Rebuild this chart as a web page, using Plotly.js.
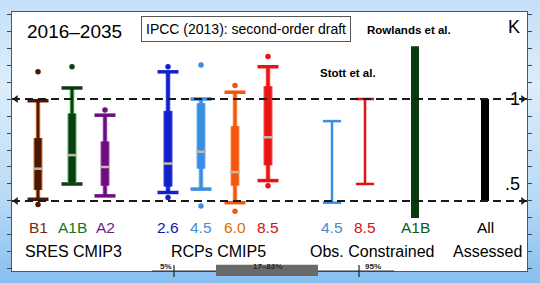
<!DOCTYPE html>
<html>
<head>
<meta charset="utf-8">
<script src="https://cdn.plot.ly/plotly-3.0.1.min.js"></script>
<style>
  html, body { margin: 0; padding: 0; }
  body {
    width: 540px; height: 283px; overflow: hidden;
    background: linear-gradient(180deg, #c4e0f8 0%, #dcedfb 30%, #b8daf6 70%, #86bff0 100%);
  }
  #chart { width: 540px; height: 283px; }
</style>
</head>
<body>
<div id="chart"></div>
<script>
// CMIP3 (SRES) and CMIP5 (RCP) model spread of warming, 2016–2035 (K)
const cmipLabels = ['B1', 'A1B', 'A2', '2.6', '4.5', '6.0', '8.5'];
const cmipMin    = [0.38, null, null, 0.42, 0.37, 0.34, 0.49];
const cmipP5     = [0.41, 0.50, 0.43, 0.45, 0.47, 0.39, 0.52];
const cmipP17    = [0.465, 0.505, 0.49, 0.485, 0.59, 0.49, 0.61];
const cmipMedian = [0.59, 0.67, 0.60, 0.62, 0.69, 0.57, 0.775];
const cmipP83    = [0.77, 0.915, 0.75, 0.93, 0.975, 0.84, 1.075];
const cmipP95    = [0.99, 1.065, 0.905, 1.16, 1.00, 1.04, 1.19];
const cmipMax    = [1.16, 1.19, 0.935, 1.19, 1.20, 1.08, 1.25];

// Observationally constrained ranges
const obsLabels = ['4.5', '8.5'];
const obsLow    = [0.39, 0.50];
const obsHigh   = [0.87, 1.00];

// Rowlands et al. (A1B) and the overall assessed range
const rowlandsLabel = 'A1B';
const rowlandsRange = [0.30, 1.31];
const assessedLabel = 'All';
const assessedRange = [0.40, 1.00];

const refLevels = [1.0, 0.4];
const tickLabels = [{v: 1.0, t: '1'}, {v: 0.5, t: '.5'}];

// layout slots along the horizontal axis
const cmipSlot = [26, 60, 93, 156, 189, 223, 256];
const obsSlot = [320, 353];
const rowlandsSlot = 403;
const assessedSlot = 473;

const cmipFill = ['#4a1708', '#0c3c15', '#6c0f7c', '#1222c6', '#3a8ee2', '#f05812', '#e81414'];
const cmipEdge = ['#d9782e', '#40b84a', '#a644b6', '#3044f0', '#6aaef0', '#ff8a40', '#ff4a4a'];
const cmipText = ['#7a2c0a', '#14752a', '#6e1a8c', '#1414b0', '#4a8ad0', '#e06a12', '#d01212'];
const obsColor = ['#3a8ee2', '#e01414'];

const FONT = 'Liberation Sans, Arial, sans-serif';
const traces = [];
const annotations = [];

function vline(x, y0, y1, color, width) {
  traces.push({x: [x, x], y: [y0, y1], mode: 'lines', line: {color, width},
    hoverinfo: 'skip', showlegend: false, cliponaxis: false});
}
function marks(xs, ys, symbol, size, color, lw) {
  traces.push({x: xs, y: ys, mode: 'markers', hoverinfo: 'skip', showlegend: false,
    cliponaxis: false,
    marker: {symbol, size, color, line: {color, width: lw}}});
}

cmipLabels.forEach((lab, i) => {
  const x = cmipSlot[i];
  vline(x, cmipP5[i], cmipP95[i], cmipEdge[i], 4.5);
  vline(x, cmipP5[i], cmipP95[i], cmipFill[i], 2.5);
  marks([x, x], [cmipP5[i], cmipP95[i]], 'line-ew', 15, cmipFill[i], 3.5);
  vline(x, cmipP17[i], cmipP83[i], cmipEdge[i], 9);
  vline(x, cmipP17[i], cmipP83[i], cmipFill[i], 7);
  marks([x], [cmipMedian[i]], 'line-ew', 7, '#c0b8b0', 2.5);
  const dots = [cmipMin[i], cmipMax[i]].filter(v => v !== null);
  marks(dots.map(() => x), dots, 'circle', 5.5, cmipFill[i], 0);
  annotations.push({x, y: 0.245, text: lab, showarrow: false,
    font: {family: FONT, size: 15.5, color: cmipText[i]}});
});

obsLabels.forEach((lab, i) => {
  const x = obsSlot[i];
  vline(x, obsLow[i], obsHigh[i], obsColor[i], 2.5);
  marks([x, x], [obsLow[i], obsHigh[i]], 'line-ew', 13, obsColor[i], 2.5);
  annotations.push({x, y: 0.245, text: lab, showarrow: false,
    font: {family: FONT, size: 15.5, color: cmipText[i === 0 ? 4 : 6]}});
});

vline(rowlandsSlot, rowlandsRange[0], rowlandsRange[1], '#0a3a10', 8);
annotations.push({x: rowlandsSlot, y: 0.245, text: rowlandsLabel, showarrow: false,
  font: {family: FONT, size: 15.5, color: '#0c5a18'}});
vline(assessedSlot, assessedRange[0], assessedRange[1], '#000000', 8);
annotations.push({x: assessedSlot, y: 0.245, text: assessedLabel, showarrow: false,
  font: {family: FONT, size: 15.5, color: '#000'}});

// arrowheads at both ends of the reference lines
refLevels.forEach(v => {
  marks([4], [v], 'triangle-left', 7, '#222', 0);
  marks([511], [v], 'triangle-right', 7, '#222', 0);
});

const shapes = refLevels.map(v => ({
  type: 'line', xref: 'x', yref: 'y', x0: 0, x1: 515, y0: v, y1: v, layer: 'above',
  line: {color: '#1a1a1a', width: 2, dash: '8px,5px'}
}));

// probability key on the bottom frame
shapes.push({type: 'line', xref: 'x', yref: 'paper', x0: 140, x1: 382, y0: 0, y1: 0,
  line: {color: '#333', width: 1}});
shapes.push({type: 'rect', xref: 'x', yref: 'paper', x0: 204, x1: 306, y0: -0.019, y1: 0.024,
  fillcolor: '#6a6a6a', line: {width: 0}});
[162, 347].forEach(x => shapes.push({type: 'line', xref: 'x', yref: 'paper', x0: x, x1: x,
  y0: -0.023, y1: 0.023, line: {color: '#222', width: 1.2}}));
const keyFont = {family: FONT, size: 8, color: '#222'};
annotations.push({x: 154, y: -0.004, yref: 'paper', text: '<b>5%</b>', showarrow: false,
  font: keyFont, borderpad: 0});
annotations.push({x: 255, y: -0.004, yref: 'paper', text: '<b>17–83%</b>', showarrow: false,
  font: {family: FONT, size: 8, color: '#2a2a2a'}, borderpad: 0});
annotations.push({x: 361, y: -0.004, yref: 'paper', text: '<b>95%</b>', showarrow: false,
  font: keyFont, borderpad: 0});

// group titles
[['SRES CMIP3', 61], ['RCPs CMIP5', 206], ['Obs. Constrained', 360], ['Assessed', 475]]
  .forEach(([t, x]) => annotations.push({x, y: 0.1, text: t, showarrow: false, borderpad: 0,
    font: {family: FONT, size: 16, color: '#000'}}));

// headings and notes
annotations.push({x: 62, y: 1.40, text: '2016–2035', showarrow: false,
  font: {family: FONT, size: 19, color: '#000'}});
annotations.push({x: 234, y: 1.41, text: 'IPCC (2013): second-order draft', showarrow: false,
  font: {family: FONT, size: 14, color: '#000'}, bordercolor: '#555', borderwidth: 1,
  borderpad: 4, bgcolor: '#fff'});
annotations.push({x: 397, y: 1.405, text: '<b>Rowlands et al.</b>', showarrow: false,
  font: {family: FONT, size: 11.5, color: '#000'}});
annotations.push({x: 336, y: 1.152, text: '<b>Stott et al.</b>', showarrow: false,
  font: {family: FONT, size: 11.5, color: '#000'}});
annotations.push({x: 510, y: 1.425, text: 'K', xanchor: 'right', showarrow: false,
  font: {family: FONT, size: 18, color: '#000'}});
tickLabels.forEach(({v, t}) => annotations.push({x: 510, y: v, text: t, xanchor: 'right',
  showarrow: false, font: {family: FONT, size: 18, color: '#000'}}));

const layout = {
  width: 540, height: 283,
  margin: {l: 12, r: 13, t: 12, b: 12, pad: 0},
  paper_bgcolor: 'rgba(0,0,0,0)',
  plot_bgcolor: '#ffffff',
  showlegend: false,
  xaxis: {range: [0, 515], showgrid: false, zeroline: false, showticklabels: false,
    ticks: '', showline: true, linecolor: '#555', linewidth: 1, mirror: true, fixedrange: true},
  yaxis: {range: [-0.012, 1.512], showgrid: false, zeroline: false, showticklabels: false,
    ticks: 'outside', ticklen: 4, tickwidth: 1, tickcolor: '#444', dtick: 0.1, tick0: 0,
    showline: true, linecolor: '#555', linewidth: 1, mirror: 'ticks', fixedrange: true},
  shapes, annotations
};

Plotly.newPlot('chart', traces, layout, {staticPlot: true, displayModeBar: false});
</script>
</body>
</html>
